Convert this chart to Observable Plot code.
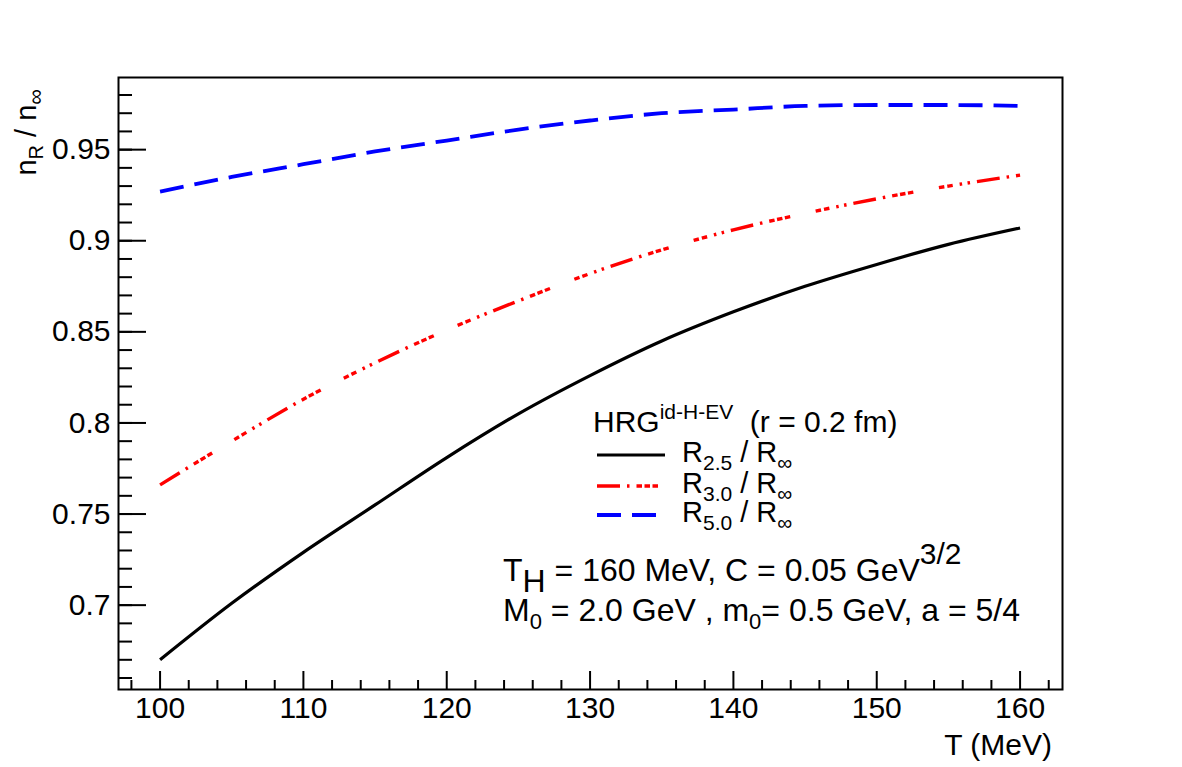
<!DOCTYPE html>
<html>
<head>
<meta charset="utf-8">
<script src="https://cdn.jsdelivr.net/npm/d3@7"></script>
<script src="https://cdn.jsdelivr.net/npm/@observablehq/plot@0.6"></script>
<style>
  body { margin: 0; background: #fff; }
  svg text { white-space: pre; }
</style>
</head>
<body>
<div id="chart"></div>
<script>
// Temperature grid (MeV) and density ratios n_R / n_inf for three system sizes
const temperature = [100, 105, 110, 115, 120, 125, 130, 135, 140, 145, 150, 155, 160];
const ratio25 = [0.670, 0.701, 0.729, 0.755, 0.781, 0.805, 0.826, 0.845, 0.861, 0.875, 0.887, 0.898, 0.907];
const ratio30 = [0.766, 0.790, 0.813, 0.833, 0.851, 0.867, 0.882, 0.895, 0.906, 0.915, 0.923, 0.930, 0.936];
const ratio50 = [0.927, 0.935, 0.942, 0.949, 0.955, 0.961, 0.966, 0.970, 0.972, 0.974, 0.9745, 0.9745, 0.974];

// Axis ticks
const xMajor = [100, 110, 120, 130, 140, 150, 160];
const xMinor = [98, 102, 104, 106, 108, 112, 114, 116, 118, 122, 124, 126, 128, 132, 134, 136, 138,
                142, 144, 146, 148, 152, 154, 156, 158, 162];
const yMajor = [0.7, 0.75, 0.8, 0.85, 0.9, 0.95];
const yMinor = d3.range(66, 99).map(d => d / 100);

const W = 1182, H = 767;
const mL = 118, mR = 120, mT = 77, mB = 78;
const fw = W - mL - mR, fh = H - mT - mB;

const rows = vals => temperature.map((t, i) => ({t, v: vals[i]}));

const redDash = [23, 7, 2.5, 7, 5.5, 2.5, 5.5, 2.5, 5.5, 26, 5.5, 3, 5.5, 7, 2.5, 5.5, 2.5, 7].join(",");
const blueDash = "24,11";

const series = [
  {vals: ratio25, stroke: "#000", width: 3.2, dash: null, label: "2.5"},
  {vals: ratio30, stroke: "#ff0000", width: 3.4, dash: redDash, label: "3.0"},
  {vals: ratio50, stroke: "#0000ff", width: 3.8, dash: blueDash, label: "5.0"}
];

const plot = Plot.plot({
  width: W,
  height: H,
  marginLeft: mL,
  marginRight: mR,
  marginTop: mT,
  marginBottom: mB,
  style: {
    fontFamily: '"Liberation Sans", Arial, Helvetica, sans-serif',
    fontSize: "30px",
    background: "#fff",
    color: "#000",
    overflow: "visible"
  },
  x: {domain: [97.1, 162.96]},
  y: {domain: [0.6537, 0.9896]},
  marks: [
    Plot.axisX({ticks: xMajor, tickSize: 0, tickPadding: 7, tickFormat: d3.format("d"), label: null, fontSize: 30}),
    Plot.axisY({ticks: yMajor, tickSize: 0, tickPadding: 8, tickFormat: d3.format("~g"), label: null, fontSize: 30}),
    Plot.tickY(yMajor, {y: d => d, insetRight: fw - 28, stroke: "#000", strokeWidth: 2}),
    Plot.tickY(yMinor, {y: d => d, insetRight: fw - 14, stroke: "#000", strokeWidth: 2}),
    Plot.tickX(xMajor, {x: d => d, insetTop: fh - 18, stroke: "#000", strokeWidth: 2}),
    Plot.tickX(xMinor, {x: d => d, insetTop: fh - 9, stroke: "#000", strokeWidth: 2}),
    ...series.map(s => Plot.line(rows(s.vals), {
      x: "t", y: "v", curve: "monotone-x",
      stroke: s.stroke, strokeWidth: s.width,
      strokeDasharray: s.dash, strokeLinecap: "butt"
    })),
    Plot.frame({stroke: "#000", strokeWidth: 2})
  ]
});

document.getElementById("chart").append(plot);

// Rich text with sub/superscripts: parts = [text, fontSize, baselineOffset]
const svg = d3.select(plot);
const g = svg.append("g")
  .attr("font-family", '"Liberation Sans", Arial, Helvetica, sans-serif')
  .attr("fill", "#000");

function richText(x, y, parts, {anchor = "start", rotate = 0} = {}) {
  const text = g.append("text")
    .attr("transform", `translate(${x},${y})` + (rotate ? ` rotate(${rotate})` : ""))
    .attr("text-anchor", anchor)
    .attr("xml:space", "preserve");
  let shift = 0;
  for (const [s, size, offset = 0] of parts) {
    text.append("tspan")
      .attr("font-size", size)
      .attr("dy", offset - shift)
      .text(s);
    shift = offset;
  }
}

// Axis titles
richText(W - mR - 10, 755, [["T (MeV)", 30]], {anchor: "end"});
richText(36, 89, [["n", 29], ["R", 20, 7], [" / n", 29, 0], ["∞", 22, 7]], {anchor: "end", rotate: -90});

// Legend
richText(593, 432, [["HRG", 30], ["id-H-EV", 21, -13], ["  (r = 0.2 fm)", 30, 0]]);
const legendY = [455, 486, 515];
series.forEach((s, i) => {
  g.append("line")
    .attr("x1", 597).attr("x2", 665)
    .attr("y1", legendY[i]).attr("y2", legendY[i])
    .attr("stroke", s.stroke)
    .attr("stroke-width", s.width)
    .attr("stroke-dasharray", s.dash);
  richText(682, legendY[i] + 7, [["R", 29], [s.label, 21, 8], [" / R", 29, 0], ["∞", 21, 8]]);
});

// Model parameters
richText(503, 581, [["T", 32], ["H", 32, 11], [" = 160 MeV, C = 0.05 GeV", 32, 0], ["3/2", 30, -17]]);
richText(503, 621, [["M", 32], ["0", 22, 8], [" = 2.0 GeV , m", 32, 0], ["0", 22, 8], ["= 0.5 GeV, a = 5/4", 32, 0]]);
</script>
</body>
</html>
